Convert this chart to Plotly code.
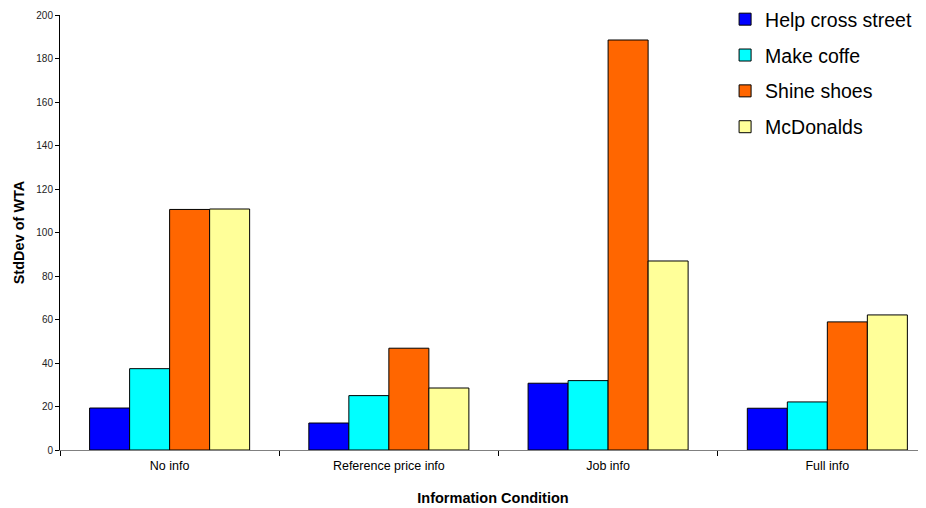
import plotly.graph_objects as go

categories = ["No info", "Reference price info", "Job info", "Full info"]
series_names = ["Help cross street", "Make coffe", "Shine shoes", "McDonalds"]
help_cross = [19.3, 12.4, 30.7, 19.2]
make_coffe = [37.4, 25.0, 31.9, 22.1]
shine_shoes = [110.6, 46.8, 188.5, 58.9]
mcdonalds = [110.8, 28.5, 86.9, 62.1]
colors = ["#0000FF", "#00FFFF", "#FF6600", "#FFFF99"]
y_ticks = [0, 20, 40, 60, 80, 100, 120, 140, 160, 180, 200]

fig = go.Figure()
for i, (name, vals) in enumerate(zip(series_names, [help_cross, make_coffe, shine_shoes, mcdonalds])):
    fig.add_trace(go.Bar(
        x=categories, y=vals, name=name, legendgroup=f"g{i}",
        marker=dict(color=colors[i], line=dict(color="#000000", width=1)),
    ))

fig.update_layout(
    width=918, height=500,
    margin=dict(l=52, r=0, t=7, b=58, autoexpand=False),
    paper_bgcolor="white", plot_bgcolor="white",
    barmode="group", bargap=0.27, bargroupgap=0,
    font=dict(family="Liberation Sans, Arial, sans-serif", color="#000000"),
    legend=dict(x=0.768, y=1.0345, xanchor="left", yanchor="top",
                font=dict(size=19.5), tracegroupgap=7.5,
                bgcolor="rgba(0,0,0,0)"),
    xaxis=dict(
        range=[-0.5, 3.45], showline=True, linecolor="#808080", linewidth=1,
        ticks="outside", tickson="boundaries", ticklen=5, tickcolor="#000000",
        tickfont=dict(size=12.5), showgrid=False, automargin=False,
        ticklabelstandoff=4,
        title=dict(text="<b>Information Condition</b>", font=dict(size=14.5), standoff=20),
    ),
    yaxis=dict(
        range=[0, 200], tickvals=y_ticks, showline=True, linecolor="#000000", linewidth=1,
        ticks="outside", ticklen=4, tickcolor="#000000", tickfont=dict(size=10, color="#222222"),
        showgrid=False, zeroline=False, automargin=False,
        title=dict(text="<b>StdDev of WTA</b>", font=dict(size=14.5), standoff=8),
    ),
)

fig.write_html("out.html")
